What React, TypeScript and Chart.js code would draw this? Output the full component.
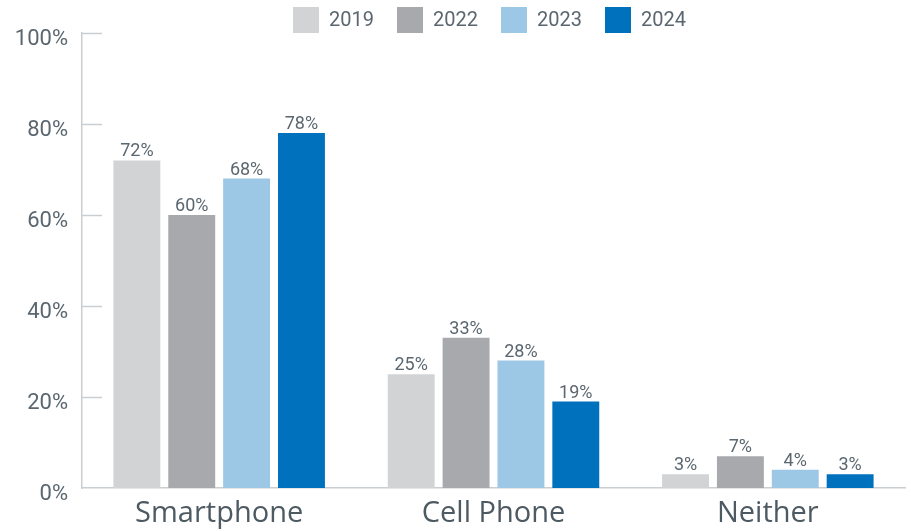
import React, { useEffect, useRef } from "react";
import { Chart, registerables } from "chart.js";

Chart.register(...registerables);

const categories = ["Smartphone", "Cell Phone", "Neither"];
const seriesLabels = ["2019", "2022", "2023", "2024"];
const values2019 = [72, 25, 3];
const values2022 = [60, 33, 7];
const values2023 = [68, 28, 4];
const values2024 = [78, 19, 3];
const yTicks = [0, 20, 40, 60, 80, 100];
const colors = ["#d1d3d4", "#a7a9ac", "#9cc7e5", "#0071bc"];

const TEXT = "#5b6770";
const AXIS = "#c9ced2";

const valueLabels = {
  id: "valueLabels",
  afterDatasetsDraw(chart: any) {
    const ctx = chart.ctx;
    ctx.save();
    ctx.font = "18px Roboto";
    ctx.fillStyle = TEXT;
    ctx.textAlign = "center";
    ctx.textBaseline = "alphabetic";
    chart.data.datasets.forEach((ds: any, i: number) => {
      const meta = chart.getDatasetMeta(i);
      meta.data.forEach((bar: any, j: number) => {
        ctx.fillText(ds.data[j] + "%", bar.x, bar.y - 4);
      });
    });
    ctx.restore();
  },
};

const innerTicks = {
  id: "innerTicks",
  afterDraw(chart: any) {
    const ctx = chart.ctx;
    const y = chart.scales.y;
    const left = chart.chartArea.left;
    ctx.save();
    ctx.strokeStyle = AXIS;
    ctx.lineWidth = 1.5;
    yTicks.forEach((t) => {
      if (t === 0) return;
      const py = Math.round(y.getPixelForValue(t)) + 0.5;
      ctx.beginPath();
      ctx.moveTo(left, py);
      ctx.lineTo(left + 20, py);
      ctx.stroke();
    });
    ctx.restore();
  },
};

const customLegend = {
  id: "customLegend",
  afterDraw(chart: any) {
    const ctx = chart.ctx;
    ctx.save();
    ctx.font = "20px Roboto";
    ctx.textBaseline = "middle";
    ctx.textAlign = "left";
    chart.data.datasets.forEach((ds: any, i: number) => {
      const x = 293 + i * 104;
      ctx.fillStyle = ds.backgroundColor;
      ctx.fillRect(x, 7, 26, 26);
      ctx.fillStyle = TEXT;
      ctx.fillText(ds.label, x + 36, 21);
    });
    ctx.restore();
  },
};

export default function App() {
  const ref = useRef<HTMLCanvasElement>(null);
  useEffect(() => {
    const seriesValues = [values2019, values2022, values2023, values2024];
    const chart = new Chart(ref.current!, {
      type: "bar",
      data: {
        labels: categories,
        datasets: seriesLabels.map((l, i) => ({
          label: l,
          data: seriesValues[i],
          backgroundColor: colors[i],
          borderWidth: 0,
          categoryPercentage: 0.8,
          barPercentage: 0.855,
        })),
      },
      options: {
        animation: false,
        responsive: false,
        maintainAspectRatio: false,
        layout: { padding: { top: 33, right: 6, left: 0, bottom: 0 } },
        plugins: {
          legend: { display: false },
          tooltip: { enabled: false },
        },
        scales: {
          x: {
            grid: { display: false, drawTicks: false },
            border: { display: true, color: AXIS, width: 1.5 },
            ticks: {
              color: "#4d5a62",
              font: { family: "'Open Sans'", size: 29 },
              padding: 8,
            },
            afterFit: (s: any) => {
              s.height = 43;
            },
          },
          y: {
            min: 0,
            max: 100,
            grid: { display: false, drawTicks: false },
            border: { display: true, color: AXIS, width: 1.5 },
            ticks: {
              stepSize: 20,
              color: TEXT,
              font: { family: "Roboto", size: 22 },
              padding: 14,
              labelOffset: 6,
              callback: (v: any) => v + "%",
            },
            afterFit: (s: any) => {
              s.width = 82;
            },
          },
        },
      },
      plugins: [valueLabels, innerTicks, customLegend],
    });
    return () => chart.destroy();
  }, []);
  return (
    <div style={{ position: "fixed", left: 0, top: 0, width: 911, height: 531, background: "#fff" }}>
      <canvas ref={ref} width={911} height={531} />
    </div>
  );
}
